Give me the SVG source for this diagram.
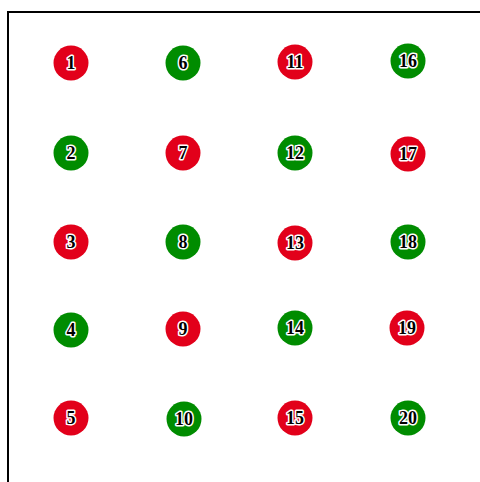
<svg xmlns="http://www.w3.org/2000/svg" width="480" height="482" viewBox="0 0 480 482">
<style>
.r{fill:#e2001a}
.g{fill:#008c00}
text{font-family:"Liberation Serif","Times New Roman",serif;font-weight:bold;font-size:18px;fill:#000;stroke:#fff;stroke-width:3px;paint-order:stroke;stroke-linejoin:round;text-anchor:middle;dominant-baseline:central}
</style>
<rect width="480" height="482" fill="#fff"/>
<rect x="8" y="12" width="500" height="500" fill="none" stroke="#000" stroke-width="2"/>
<g id="connectors"/>
<g id="n1"><circle class="r" cx="71" cy="63" r="17.5"/><text x="71" y="63">1</text></g>
<g id="n2"><circle class="g" cx="71" cy="153" r="17.5"/><text x="71" y="153">2</text></g>
<g id="n3"><circle class="r" cx="71" cy="242" r="17.5"/><text x="71" y="242">3</text></g>
<g id="n4"><circle class="g" cx="71" cy="330" r="17.5"/><text x="71" y="330">4</text></g>
<g id="n5"><circle class="r" cx="71" cy="418" r="17.5"/><text x="71" y="418">5</text></g>
<g id="n6"><circle class="g" cx="183" cy="63" r="17.5"/><text x="183" y="63">6</text></g>
<g id="n7"><circle class="r" cx="183" cy="153" r="17.5"/><text x="183" y="153">7</text></g>
<g id="n8"><circle class="g" cx="183" cy="242" r="17.5"/><text x="183" y="242">8</text></g>
<g id="n9"><circle class="r" cx="183" cy="329" r="17.5"/><text x="183" y="329">9</text></g>
<g id="n10"><circle class="g" cx="184" cy="419" r="17.5"/><text x="184" y="419">10</text></g>
<g id="n11"><circle class="r" cx="295" cy="62" r="17.5"/><text x="295" y="62">11</text></g>
<g id="n12"><circle class="g" cx="295" cy="153" r="17.5"/><text x="295" y="153">12</text></g>
<g id="n13"><circle class="r" cx="295" cy="243" r="17.5"/><text x="295" y="243">13</text></g>
<g id="n14"><circle class="g" cx="295" cy="328" r="17.5"/><text x="295" y="328">14</text></g>
<g id="n15"><circle class="r" cx="295" cy="418" r="17.5"/><text x="295" y="418">15</text></g>
<g id="n16"><circle class="g" cx="408" cy="61" r="17.5"/><text x="408" y="61">16</text></g>
<g id="n17"><circle class="r" cx="408" cy="154" r="17.5"/><text x="408" y="154">17</text></g>
<g id="n18"><circle class="g" cx="408" cy="242" r="17.5"/><text x="408" y="242">18</text></g>
<g id="n19"><circle class="r" cx="407" cy="328" r="17.5"/><text x="407" y="328">19</text></g>
<g id="n20"><circle class="g" cx="408" cy="418" r="17.5"/><text x="408" y="418">20</text></g>
</svg>
